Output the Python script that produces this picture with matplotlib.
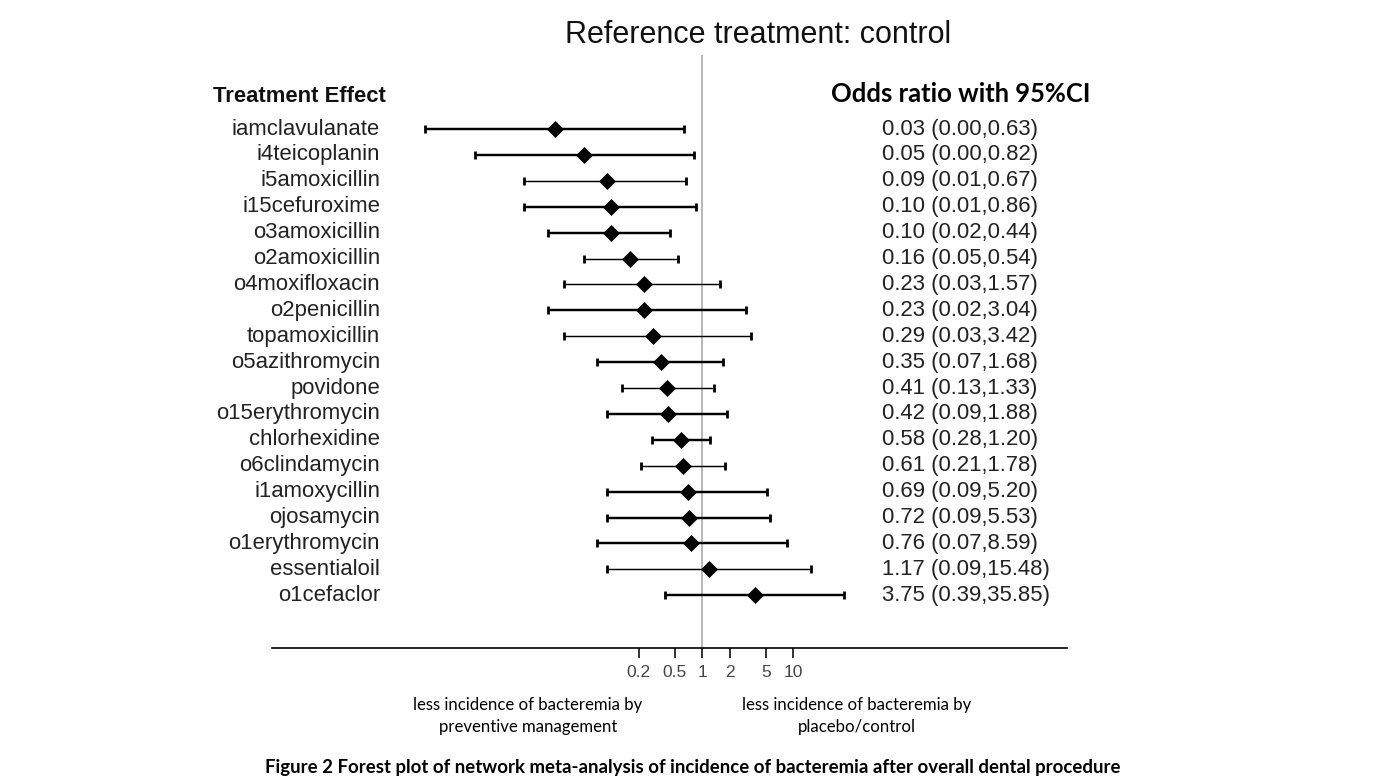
import matplotlib
matplotlib.use("Agg")
import matplotlib.pyplot as plt
import matplotlib.transforms as mtransforms

treatments = ["iamclavulanate", "i4teicoplanin", "i5amoxicillin", "i15cefuroxime",
              "o3amoxicillin", "o2amoxicillin", "o4moxifloxacin", "o2penicillin",
              "topamoxicillin", "o5azithromycin", "povidone", "o15erythromycin",
              "chlorhexidine", "o6clindamycin", "i1amoxycillin", "ojosamycin",
              "o1erythromycin", "essentialoil", "o1cefaclor"]
odds = [0.024, 0.05, 0.09, 0.10, 0.10, 0.16, 0.23, 0.23, 0.29, 0.35, 0.41, 0.42,
        0.58, 0.61, 0.69, 0.72, 0.76, 1.17, 3.75]
ci_low = [0.0009, 0.0032, 0.011, 0.011, 0.02, 0.05, 0.03, 0.02, 0.03, 0.07, 0.13,
          0.09, 0.28, 0.21, 0.09, 0.09, 0.07, 0.09, 0.39]
ci_high = [0.63, 0.82, 0.67, 0.86, 0.44, 0.54, 1.57, 3.04, 3.42, 1.68, 1.33, 1.88,
           1.20, 1.78, 5.20, 5.53, 8.59, 15.48, 35.85]
ci_labels = ["0.03 (0.00,0.63)", "0.05 (0.00,0.82)", "0.09 (0.01,0.67)",
             "0.10 (0.01,0.86)", "0.10 (0.02,0.44)", "0.16 (0.05,0.54)",
             "0.23 (0.03,1.57)", "0.23 (0.02,3.04)", "0.29 (0.03,3.42)",
             "0.35 (0.07,1.68)", "0.41 (0.13,1.33)", "0.42 (0.09,1.88)",
             "0.58 (0.28,1.20)", "0.61 (0.21,1.78)", "0.69 (0.09,5.20)",
             "0.72 (0.09,5.53)", "0.76 (0.07,8.59)", "1.17 (0.09,15.48)",
             "3.75 (0.39,35.85)"]
tick_vals = [0.2, 0.5, 1, 2, 5, 10]
tick_labels = ["0.2", "0.5", "1", "2", "5", "10"]
thin_rows = [2, 5, 6, 8, 10, 13, 17]

W, H = 1387, 780
fig = plt.figure(figsize=(W / 100, H / 100), dpi=100)
fig.patch.set_facecolor("white")

def px(x, y):
    return x / W, 1 - y / H

# axes: x from 271.7 to 1067 px, y from 55 to 648.3 px
ax_l, ax_r, ax_t, ax_b = 271.7, 1067.0, 55.0, 648.3
ax = fig.add_axes([ax_l / W, 1 - ax_b / H, (ax_r - ax_l) / W, (ax_b - ax_t) / H])
ax.set_xscale("log")
ppd = 91.0  # px per decade
x1 = 702.3
ax.set_xlim(10 ** ((ax_l - x1) / ppd), 10 ** ((ax_r - x1) / ppd))
row0, dy = 129.0, 25.9
n = len(treatments)
ax.set_ylim(1 + (ax_b - row0) / dy, 1 + (ax_t - row0) / dy)
ax.patch.set_alpha(0)
for s in ["top", "right", "left"]:
    ax.spines[s].set_visible(False)
ax.spines["bottom"].set_linewidth(1.2)
ax.set_yticks([])
ax.set_xticks(tick_vals)
ax.set_xticklabels(tick_labels)
ax.xaxis.set_minor_locator(matplotlib.ticker.NullLocator())
ax.tick_params(axis="x", length=7, width=1.3, pad=5, labelsize=12.5, labelcolor="#444444",
               color="#222222")
for lab in ax.get_xticklabels():
    lab.set_fontfamily("Liberation Sans")

ax.axvline(1, color="#aaaaaa", lw=1.2, zorder=1)

for i in range(n):
    y = i + 1
    thin = i in thin_rows
    lw = 1.05 if thin else 1.75
    ax.errorbar([odds[i]], [y], xerr=[[odds[i] - ci_low[i]], [ci_high[i] - odds[i]]],
                fmt="none", ecolor="black", elinewidth=lw, capsize=2.9, capthick=2.0,
                zorder=2)
    ax.plot([odds[i]], [y], marker="D", markersize=8.2, color="black", mew=0.5,
            linestyle="none", zorder=3)

tr = mtransforms.blended_transform_factory(fig.transFigure, ax.transData)
for i in range(n):
    ax.text(380 / W, i + 1, treatments[i], transform=tr, ha="right", va="center",
            fontsize=15.9, family="Liberation Sans", color="#222222")
    ax.text(881.7 / W, i + 1, ci_labels[i], transform=tr, ha="left", va="center",
            fontsize=15.9, family="Liberation Sans", color="#222222")

fig.text(*px(213, 97), "Treatment Effect", ha="left", va="center", fontsize=15.8,
         family="Liberation Sans", fontweight="bold", color="#111111")
fig.text(*px(758.5, 35), "Reference treatment: control", ha="center", va="center",
         fontsize=22, family="Liberation Sans", color="#111111")

renderer = fig.canvas.get_renderer()

def fit_text(x, y, s, width_px, **kw):
    t = fig.text(*px(x, y), s, fontsize=10, **kw)
    w = t.get_window_extent(renderer=renderer).width
    t.set_fontsize(10 * width_px / w)
    return t

fit_text(960.5, 94, "Odds ratio with 95%CI", 259, ha="center", va="center",
         family="Lato", fontweight="bold", color="black")
t1 = fit_text(528, 705, "less incidence of bacteremia by", 230, ha="center", va="center",
              family="Lato", color="black")
fs = t1.get_fontsize()
fig.text(*px(528, 727), "preventive management", ha="center", va="center", fontsize=fs,
         family="Lato", color="black")
fig.text(*px(857, 705), "less incidence of bacteremia by", ha="center", va="center",
         fontsize=fs, family="Lato", color="black")
fig.text(*px(857, 727), "placebo/control", ha="center", va="center", fontsize=fs,
         family="Lato", color="black")
fit_text(692.5, 767, "Figure 2 Forest plot of network meta-analysis of incidence of "
         "bacteremia after overall dental procedure", 855, ha="center", va="center",
         family="Lato", fontweight="bold", color="black")

fig.savefig("out.png", dpi=100, facecolor="white")
